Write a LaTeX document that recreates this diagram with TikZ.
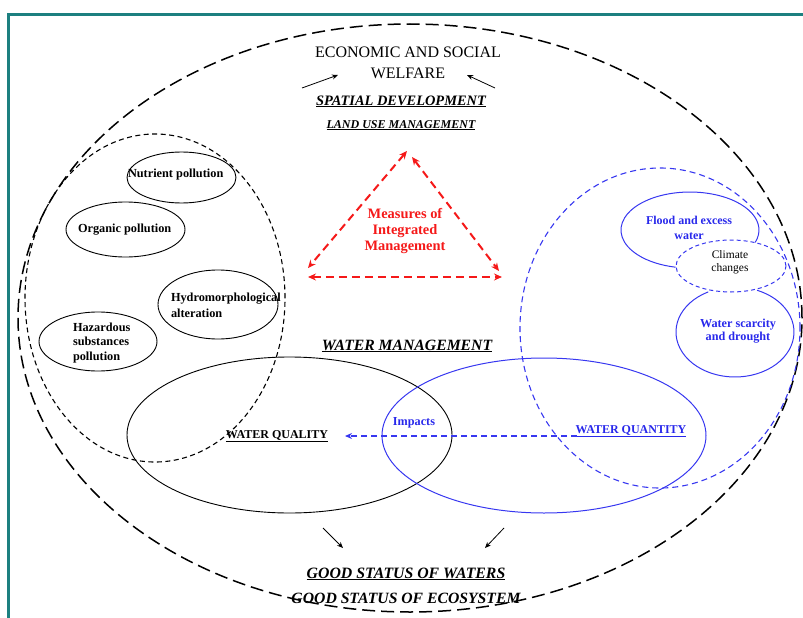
\documentclass[tikz,border=0pt]{standalone}
\usepackage{fontspec}
\setmainfont{Liberation Serif}
\usetikzlibrary{arrows.meta}
\definecolor{frameteal}{RGB}{28,128,128}
\definecolor{dblue}{RGB}{40,40,235}
\definecolor{lblue}{RGB}{55,55,240}
\definecolor{mred}{RGB}{245,25,25}
\begin{document}
\begin{tikzpicture}[x=1pt,y=-1pt,
  txt/.style={inner sep=0pt, outer sep=0pt},
  outerdash/.style={line width=1.5pt, dash pattern=on 13pt off 6pt},
  leftdash/.style={line width=1.1pt, dash pattern=on 5pt off 3.5pt},
  bluedash/.style={lblue, line width=1.1pt, dash pattern=on 6pt off 4pt},
  climdash/.style={lblue, line width=1pt, dash pattern=on 4pt off 3pt},
  blacksolid/.style={line width=0.9pt},
  bluesolid/.style={lblue, line width=1pt},
  redarr/.style={mred, line width=2pt, dash pattern=on 8pt off 5pt, {Stealth[length=8pt,width=7pt]}-{Stealth[length=8pt,width=7pt]}},
  blackarr/.style={line width=0.8pt, -{Stealth[length=6pt,width=5pt]}},
  bluearr/.style={lblue, line width=1.1pt, dash pattern=on 6pt off 4pt, -{Stealth[length=7pt,width=6pt]}}
]
\useasboundingbox (0,0) rectangle (803,618);
% frame
\draw[frameteal, line width=3pt] (8,618) -- (8,15) -- (803,15);

% big ellipses
\draw[outerdash] (410,318) ellipse [x radius=392pt, y radius=294pt];
\draw[leftdash] (155,298) ellipse [x radius=130pt, y radius=164pt];
\draw[bluedash] (660,328) ellipse [x radius=140pt, y radius=160pt];
\draw[blacksolid] (289.5,435) ellipse [x radius=162.5pt, y radius=78pt];
\draw[bluesolid] (544,435.5) ellipse [x radius=162pt, y radius=77.5pt];

% left small ellipses
\draw[blacksolid] (181.5,177.5) ellipse [x radius=54.5pt, y radius=25.5pt];
\draw[blacksolid] (125.5,229.5) ellipse [x radius=59.5pt, y radius=27.5pt];
\draw[blacksolid] (218,304.5) ellipse [x radius=60pt, y radius=34.5pt];
\draw[blacksolid] (98,341.5) ellipse [x radius=59pt, y radius=29.5pt];

% right small ellipses
\draw[bluesolid] (755.2,242.4) arc[start angle=-19, end angle=258, x radius=69pt, y radius=38pt];
\draw[climdash] (731,266) ellipse [x radius=55pt, y radius=26pt];
\draw[bluesolid] (708.2,291.9) arc[start angle=117, end angle=428, x radius=59pt, y radius=45pt];

% top texts
\node[txt, anchor=base, font=\fontsize{16}{18}\selectfont] (eco) at (408,58) {ECONOMIC AND SOCIAL};
\node[txt, anchor=base, font=\fontsize{16}{18}\selectfont] (wel) at (408,78) {WELFARE};
\node[txt, anchor=base, font=\fontsize{14.4}{16}\selectfont\bfseries\itshape] (spa) at (401,105) {\underline{SPATIAL DEVELOPMENT}};
\node[txt, anchor=base, font=\fontsize{12}{14}\selectfont\bfseries\itshape] (lum) at (401,128) {\underline{LAND USE MANAGEMENT}};

\coordinate (ta1) at (302,88); \coordinate (ta2) at (338,75);
\coordinate (tb1) at (495,88); \coordinate (tb2) at (467,75);
\draw[blackarr] (ta1) -- (ta2);
\draw[blackarr] (tb1) -- (tb2);

% red triangle
\coordinate (apL) at (407,151); \coordinate (apR) at (412,157);
\coordinate (bl1) at (308,268); \coordinate (bl2) at (308,277);
\coordinate (br1) at (502,277); \coordinate (br2) at (499,271);
\draw[redarr] (apL) -- (bl1);
\draw[redarr] (apR) -- (br2);
\draw[redarr] (bl2) -- (br1);
\node[txt, mred, align=center, font=\fontsize{14.4}{16.3}\selectfont\bfseries] (meas) at (405,231) {Measures of\\Integrated\\Management};

% left texts
\node[txt, anchor=base west, font=\fontsize{12.3}{15}\selectfont\bfseries] (nut) at (128,177) {Nutrient pollution};
\node[txt, anchor=base west, font=\fontsize{12.3}{15}\selectfont\bfseries] (org) at (78,232) {Organic pollution};
\node[txt, anchor=base west, font=\fontsize{12.3}{15}\selectfont\bfseries] (hyd) at (171,301) {Hydromorphological};
\node[txt, anchor=base west, font=\fontsize{12.3}{15}\selectfont\bfseries] (alt) at (171,317) {alteration};
\node[txt, anchor=base west, font=\fontsize{12.3}{15}\selectfont\bfseries] (haz1) at (73,331) {Hazardous};
\node[txt, anchor=base west, font=\fontsize{12.3}{15}\selectfont\bfseries] (haz2) at (73,345) {substances};
\node[txt, anchor=base west, font=\fontsize{12.3}{15}\selectfont\bfseries] (haz3) at (73,360) {pollution};

% right texts
\node[txt, dblue, align=center, font=\fontsize{12}{15}\selectfont\bfseries] (flood) at (689,228) {Flood and excess\\water};
\node[txt, align=center, font=\fontsize{11.5}{12.5}\selectfont] (clim) at (730,262) {Climate\\changes};
\node[txt, dblue, align=center, font=\fontsize{12.2}{12.5}\selectfont\bfseries] (scar) at (738,331) {Water scarcity\\and drought};

% water management
\node[txt, anchor=base, font=\fontsize{15.7}{18}\selectfont\bfseries\itshape] (wm) at (407,350) {\underline{WATER MANAGEMENT}};
\node[txt, anchor=base, font=\fontsize{12}{14}\selectfont\bfseries] (wq) at (277,438) {\underline{WATER QUALITY}};
\node[txt, anchor=base, dblue, font=\fontsize{12}{14}\selectfont\bfseries] (wqt) at (631,433) {\underline{WATER QUANTITY}};
\node[txt, anchor=base, dblue, font=\fontsize{12.2}{14}\selectfont\bfseries] (imp) at (414,425) {Impacts};
\coordinate (qs) at (577,436); \coordinate (qe) at (345,436);
\draw[bluearr] (qs) -- (qe);

% bottom
\coordinate (ba1) at (323,528); \coordinate (ba2) at (343,548);
\coordinate (bb1) at (504,528); \coordinate (bb2) at (485,548);
\draw[blackarr] (ba1) -- (ba2);
\draw[blackarr] (bb1) -- (bb2);
\node[txt, anchor=base, font=\fontsize{15.8}{18}\selectfont\bfseries\itshape] (gsw) at (406,578) {\underline{GOOD STATUS OF WATERS}};
\node[txt, anchor=base, font=\fontsize{15.7}{18}\selectfont\bfseries\itshape] (gse) at (406,603) {GOOD STATUS OF ECOSYSTEM};
\end{tikzpicture}
\end{document}
